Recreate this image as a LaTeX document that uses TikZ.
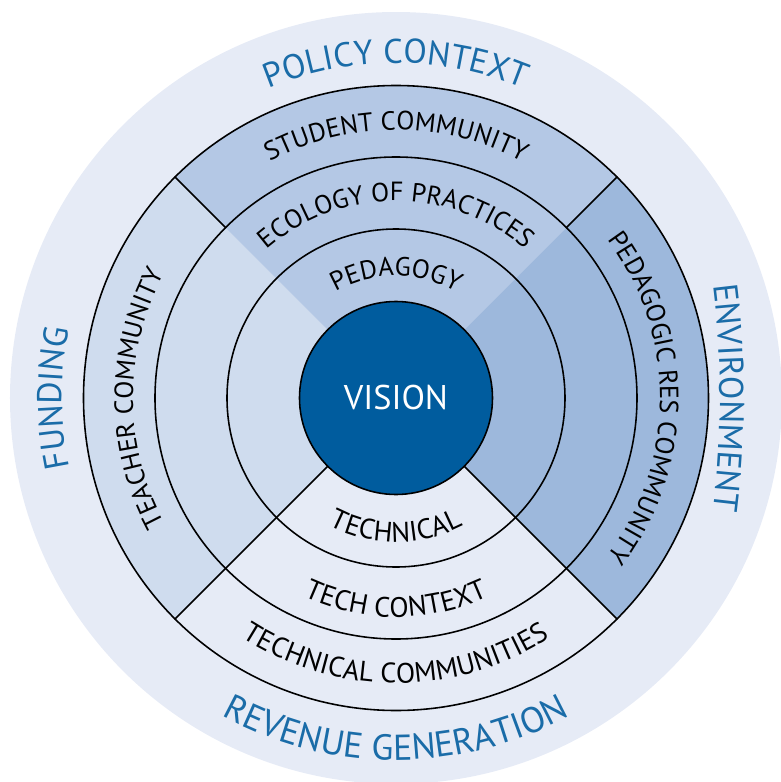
\documentclass[tikz,border=0pt]{standalone}
\usepackage{fontspec}
\setmainfont{PT Sans}
\usetikzlibrary{decorations.text}
\definecolor{bgblue}{HTML}{E6EBF6}
\definecolor{leftblue}{HTML}{CFDCEE}
\definecolor{topblue}{HTML}{B4C8E5}
\definecolor{rightblue}{HTML}{9DB8DC}
\definecolor{visionblue}{HTML}{005C9E}
\definecolor{labelblue}{HTML}{1A6CA8}
\newcommand{\ringfont}{\fontsize{15pt}{15pt}\selectfont}
\newcommand{\lowfont}{\fontsize{16pt}{16pt}\selectfont}
\newcommand{\outerfont}{\fontsize{19.5pt}{19.5pt}\selectfont}
\begin{document}
\begin{tikzpicture}[line join=round, line cap=round, line width=0.9pt,
  ringtext/.style={decorate, decoration={text along path, text align=center, text={|\ringfont|#1}}},
  lowtext/.style={decorate, decoration={text along path, text align=center, text={|\lowfont|#1}}},
  outertext/.style={decorate, decoration={text along path, text align=center, text color=labelblue, text={|\outerfont|#1}}}]
\useasboundingbox (-7.92,-7.68) rectangle (7.70,7.96);
\fill[bgblue] (0,0) circle (7.72);
\fill[leftblue] (0,0) -- (135:6.25) arc[start angle=135, end angle=225, radius=6.25] -- cycle;
\fill[topblue] (0,0) -- (45:6.25) arc[start angle=45, end angle=135, radius=6.25] -- cycle;
\fill[rightblue] (0,0) -- (-45:6.25) arc[start angle=-45, end angle=45, radius=6.25] -- cycle;
\draw (0,0) circle (6.25);
\draw (0,0) circle (4.82);
\draw (0,0) circle (3.38);
\draw (45:4.82) -- (45:6.25);
\draw (135:4.82) -- (135:6.25);
\draw (225:1.93) -- (225:6.25);
\draw (315:1.93) -- (315:6.25);
\node[circle, draw, fill=visionblue, minimum size=3.86cm, text=white, font=\outerfont] (vision) at (0,0) {VISION};
\path[ringtext={PEDAGOGY}] (170:2.44) arc[start angle=170, end angle=10, radius=2.44];
\path[ringtext={ECOLOGY OF PRACTICES}] (170:3.94) arc[start angle=170, end angle=10, radius=3.94];
\path[ringtext={STUDENT COMMUNITY}] (170:5.36) arc[start angle=170, end angle=10, radius=5.36];
\path[lowtext={TECHNICAL}] (190:2.88) arc[start angle=190, end angle=350, radius=2.88];
\path[lowtext={TECH CONTEXT}] (190:4.38) arc[start angle=190, end angle=350, radius=4.38];
\path[lowtext={TECHNICAL COMMUNITIES}] (190:5.70) arc[start angle=190, end angle=350, radius=5.70];
\path[ringtext={TEACHER COMMUNITY}] (260:5.26) arc[start angle=260, end angle=100, radius=5.26];
\path[ringtext={PEDAGOGIC RES COMMUNITY}] (80:5.28) arc[start angle=80, end angle=-80, radius=5.28];
\path[outertext={POLICY CONTEXT}] (170:6.70) arc[start angle=170, end angle=10, radius=6.70];
\path[outertext={|\fontsize{20.5pt}{20.5pt}\selectfont|REVENUE GENERATION}] (190:7.24) arc[start angle=190, end angle=350, radius=7.24];
\path[outertext={FUNDING}] (260:6.68) arc[start angle=260, end angle=100, radius=6.68];
\path[outertext={ENVIRONMENT}] ([shift={(-11.52,0)}]20:18) arc[start angle=20, end angle=-20, radius=18];
\end{tikzpicture}
\end{document}
